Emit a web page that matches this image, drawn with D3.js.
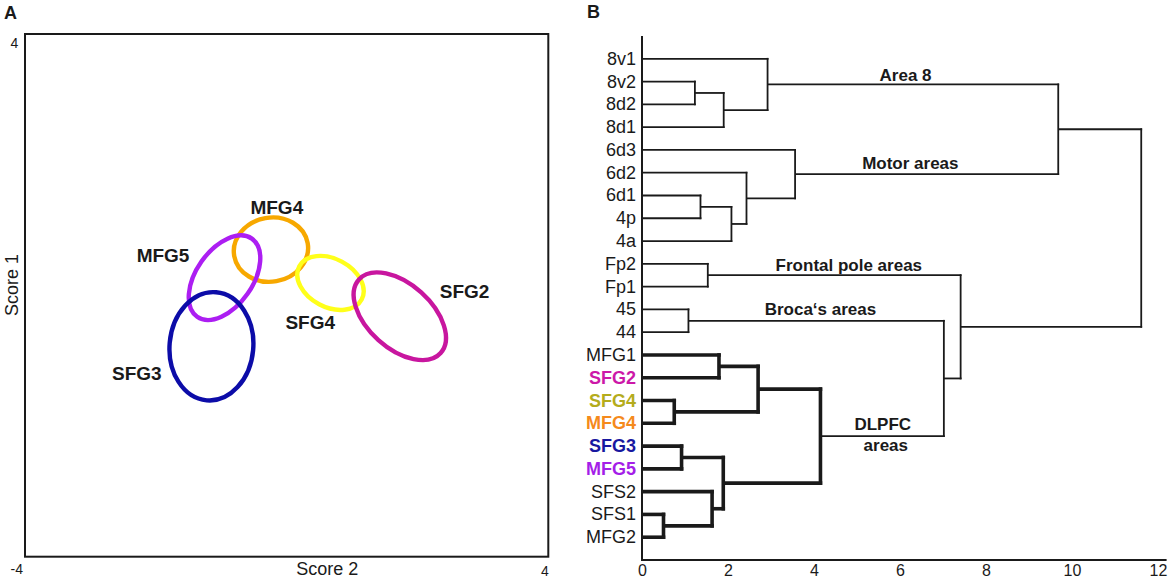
<!DOCTYPE html>
<html>
<head>
<meta charset="utf-8">
<script src="https://cdn.jsdelivr.net/npm/d3@7"></script>
<style>
  body { margin: 0; background: #fff; }
  text { font-family: "Liberation Sans", Arial, sans-serif; fill: #1a1a1a; }
</style>
</head>
<body>
<div id="chart"></div>
<script>
// ---- panel A data (score units) ----
var regions   = ['MFG4', 'MFG5', 'SFG4', 'SFG2', 'SFG3'];
var centerX   = [-0.24, -0.95, 0.67, 1.73, -1.15];
var centerY   = [0.70, 0.27, 0.19, -0.32, -0.78];
var radiusX   = [0.57, 0.43, 0.54, 0.84, 0.64];
var radiusY   = [0.49, 0.73, 0.37, 0.49, 0.83];
var tilt      = [-10, 35, 28, 42, 5];
var ringColor = ['#f7a800', '#ac1ef2', '#ffff1a', '#c8169f', '#0c0ca8'];
var labelX    = [-0.15, -1.89, 0.36, 2.72, -2.29];
var labelY    = [1.35, 0.61, -0.41, 0.06, -1.20];

// ---- panel B data ----
var leaves = ['8v1', '8v2', '8d2', '8d1', '6d3', '6d2', '6d1', '4p', '4a',
  'Fp2', 'Fp1', '45', '44', 'MFG1', 'SFG2', 'SFG4', 'MFG4', 'SFG3', 'MFG5',
  'SFS2', 'SFS1', 'MFG2'];
var leafColor = { SFG2: '#cc18a8', SFG4: '#b4ac1c', MFG4: '#f58a1c', SFG3: '#1818a0', MFG5: '#a41ee8' };
// [cluster, child 1, child 2, linkage distance]
var merges = [
  ['a1', '8v2', '8d2', 1.23],
  ['a2', 'a1', '8d1', 1.90],
  ['a3', '8v1', 'a2', 2.92],
  ['m1', '6d1', '4p', 1.36],
  ['m2', 'm1', '4a', 2.08],
  ['m3', '6d2', 'm2', 2.43],
  ['m4', '6d3', 'm3', 3.56],
  ['top', 'a3', 'm4', 9.68],
  ['f1', 'Fp2', 'Fp1', 1.53],
  ['b1', '45', '44', 1.08],
  ['d1', 'MFG1', 'SFG2', 1.79],
  ['d2', 'SFG4', 'MFG4', 0.75],
  ['d3', 'd1', 'd2', 2.70],
  ['d4', 'SFG3', 'MFG5', 0.92],
  ['d5', 'SFS1', 'MFG2', 0.50],
  ['d6', 'SFS2', 'd5', 1.63],
  ['d7', 'd4', 'd6', 1.89],
  ['dl', 'd3', 'd7', 4.15],
  ['bd', 'b1', 'dl', 7.02],
  ['fb', 'f1', 'bd', 7.41],
  ['root', 'top', 'fb', 11.61]
];
var distTicks = [0, 2, 4, 6, 8, 10, 12];
var noteText = ['Area 8', 'Motor areas', 'Frontal pole areas', 'Broca\u2018s areas', 'DLPFC', 'areas'];
var noteX    = [6.13, 6.24, 4.81, 4.15, 5.60, 5.67];
var noteRow  = [0.73, 4.61, 9.06, 11.0, 16.05, 16.96];

var svg = d3.select('#chart').append('svg')
  .attr('width', 1170)
  .attr('height', 582);

// ================= panel A =================
var xs = d3.scaleLinear().domain([-4, 4]).range([25, 548.3]);
var ys = d3.scaleLinear().domain([-4, 4]).range([556.7, 34]);
var unitX = xs(1) - xs(0), unitY = ys(0) - ys(1);

svg.append('text').text('A')
  .attr('x', 4).attr('y', 19)
  .style('font-size', '18px').style('font-weight', 'bold');

svg.append('rect')
  .attr('x', xs(-4)).attr('y', ys(4))
  .attr('width', xs(4) - xs(-4)).attr('height', ys(-4) - ys(4))
  .attr('fill', 'none').attr('stroke', '#1a1a1a').attr('stroke-width', 2);

svg.selectAll('.ring')
  .data(regions)
  .enter()
  .append('ellipse')
  .attr('class', 'ring')
  .attr('cx', (d, i) => xs(centerX[i]))
  .attr('cy', (d, i) => ys(centerY[i]))
  .attr('rx', (d, i) => radiusX[i] * unitX)
  .attr('ry', (d, i) => radiusY[i] * unitY)
  .attr('transform', (d, i) => 'rotate(' + tilt[i] + ',' + xs(centerX[i]) + ',' + ys(centerY[i]) + ')')
  .attr('fill', 'none')
  .attr('stroke', (d, i) => ringColor[i])
  .attr('stroke-width', 4.4);

svg.selectAll('.ringlabel')
  .data(regions)
  .enter()
  .append('text')
  .attr('class', 'ringlabel')
  .text(d => d)
  .attr('x', (d, i) => xs(labelX[i]))
  .attr('y', (d, i) => ys(labelY[i]))
  .attr('text-anchor', 'middle')
  .attr('dominant-baseline', 'central')
  .style('font-size', '19px')
  .style('font-weight', 'bold');

// corner ticks
svg.append('text').text('4')
  .attr('x', xs(-4) - 10.5).attr('y', ys(4) + 9)
  .attr('text-anchor', 'middle').attr('dominant-baseline', 'central')
  .style('font-size', '14px');
svg.append('text').text('-4')
  .attr('x', xs(-4) - 8.3).attr('y', ys(-4) + 12.5)
  .attr('text-anchor', 'middle').attr('dominant-baseline', 'central')
  .style('font-size', '14px');
svg.append('text').text('4')
  .attr('x', xs(4) - 3.3).attr('y', ys(-4) + 14)
  .attr('text-anchor', 'middle').attr('dominant-baseline', 'central')
  .style('font-size', '14px');

svg.append('text').text('Score 2')
  .attr('x', xs(0.62)).attr('y', ys(-4) + 12.5)
  .attr('text-anchor', 'middle').attr('dominant-baseline', 'central')
  .style('font-size', '18px');
svg.append('text').text('Score 1')
  .attr('transform', 'translate(' + (xs(-4) - 13.3) + ',' + ys(0.16) + ') rotate(-90)')
  .attr('text-anchor', 'middle').attr('dominant-baseline', 'central')
  .style('font-size', '18px');

// ================= panel B =================
var xd = d3.scaleLinear().domain([0, 12]).range([642, 1158]);
var yl = d3.scalePoint().domain(leaves).range([36, 560]).padding(1);

svg.append('text').text('B')
  .attr('x', 587).attr('y', 18)
  .style('font-size', '18px').style('font-weight', 'bold');

// build tree
var nodes = {};
leaves.forEach(l => { nodes[l] = { name: l, h: 0, y: yl(l) }; });
merges.forEach(m => {
  var c1 = nodes[m[1]], c2 = nodes[m[2]];
  nodes[m[0]] = { name: m[0], h: m[3], y: (c1.y + c2.y) / 2, children: [c1, c2] };
});
var root = d3.hierarchy(nodes['root']);
var thick = new Set(root.descendants().find(d => d.data.name === 'dl').descendants().map(d => d.data.name));

var inner = root.descendants().filter(d => d.children);
var segs = [];
inner.forEach(n => {
  var w = thick.has(n.data.name) ? 3.6 : 1.8;
  segs.push({ x1: n.data.h, x2: n.data.h, y1: n.children[0].data.y, y2: n.children[1].data.y, w: w });
  n.children.forEach(c => {
    segs.push({ x1: c.data.h, x2: n.data.h, y1: c.data.y, y2: c.data.y, w: w });
  });
});

svg.selectAll('.link')
  .data(segs)
  .enter()
  .append('line')
  .attr('class', 'link')
  .attr('x1', d => xd(d.x1))
  .attr('x2', d => xd(d.x2) + (d.x1 === d.x2 ? 0 : d.w / 2))
  .attr('y1', d => d.y1 - (d.x1 === d.x2 ? d.w / 2 : 0))
  .attr('y2', d => d.y2 + (d.x1 === d.x2 ? d.w / 2 : 0))
  .attr('stroke', '#1a1a1a')
  .attr('stroke-width', d => d.w);

// axes
svg.append('line')
  .attr('x1', xd(0)).attr('x2', xd(0))
  .attr('y1', 36).attr('y2', 561)
  .attr('stroke', '#1a1a1a').attr('stroke-width', 2);
svg.append('line')
  .attr('x1', xd(0) - 1).attr('x2', xd(12.2))
  .attr('y1', 560).attr('y2', 560)
  .attr('stroke', '#1a1a1a').attr('stroke-width', 2);

var xAxis = d3.axisBottom(xd).tickValues(distTicks).tickSize(0).tickPadding(5);
var gx = svg.append('g')
  .attr('transform', 'translate(0,560)')
  .call(xAxis);
gx.select('.domain').remove();
gx.selectAll('text')
  .style('font-size', '16px')
  .style('font-family', '"Liberation Sans", Arial, sans-serif')
  .attr('fill', '#1a1a1a');

// leaf labels
svg.selectAll('.leaf')
  .data(leaves)
  .enter()
  .append('text')
  .attr('class', 'leaf')
  .text(d => d)
  .attr('x', xd(0) - 6)
  .attr('y', d => yl(d))
  .attr('text-anchor', 'end')
  .attr('dominant-baseline', 'central')
  .style('font-size', '18px')
  .style('font-weight', d => leafColor[d] ? 'bold' : 'normal')
  .style('fill', d => leafColor[d] || '#1a1a1a');

// cluster notes
var step = yl.step();
svg.selectAll('.note')
  .data(noteText)
  .enter()
  .append('text')
  .attr('class', 'note')
  .text(d => d)
  .attr('x', (d, i) => xd(noteX[i]))
  .attr('y', (d, i) => yl(leaves[0]) + noteRow[i] * step)
  .attr('text-anchor', 'middle')
  .attr('dominant-baseline', 'central')
  .style('font-size', '17px')
  .style('font-weight', 'bold');
</script>
</body>
</html>
